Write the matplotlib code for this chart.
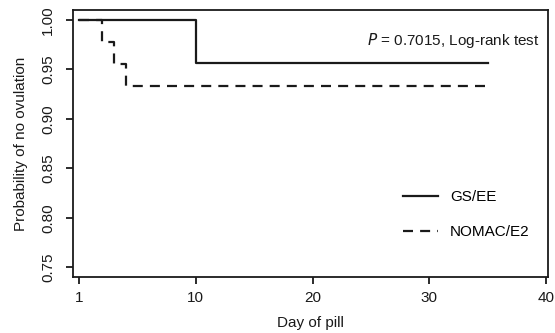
import matplotlib.pyplot as plt

plt.rcParams['font.family'] = ['Liberation Sans', 'DejaVu Sans']

# step data (day, probability of no ovulation)
GS_DAYS = [0, 10, 35]
GS_PROB = [1.0, 0.9565, 0.9565]
NOMAC_DAYS = [0, 2, 3, 4, 35]
NOMAC_PROB = [1.0, 0.9778, 0.9556, 0.9333, 0.9333]

X_TICKS = [0, 10, 20, 30, 40]
X_LABELS = ['1', '10', '20', '30', '40']
Y_TICKS = [0.75, 0.80, 0.85, 0.90, 0.95, 1.00]

INK = '#1a1a1a'
FS = 11

fig = plt.figure(figsize=(5.55, 3.33), dpi=100)
ax = fig.add_axes([0.1315, 0.168, 0.856, 0.802])

ax.step(GS_DAYS, GS_PROB, where='post', color=INK, lw=1.6, label='GS/EE')
ax.step(NOMAC_DAYS, NOMAC_PROB, where='post', color=INK, lw=1.6,
        dashes=(4.5, 3.2), label='NOMAC/E2')

ax.set_xlim(-0.5, 40.15)
ax.set_ylim(0.74, 1.01)
ax.set_xticks(X_TICKS)
ax.set_xticklabels(X_LABELS)
ax.set_yticks(Y_TICKS)
ax.set_yticklabels(['%.2f' % v for v in Y_TICKS], rotation=90, va='center')

ax.tick_params(direction='out', length=5, width=1.3, colors=INK,
               labelsize=FS)
ax.tick_params(axis='y', pad=8)
ax.tick_params(axis='x', pad=5)
for s in ax.spines.values():
    s.set_linewidth(1.3)
    s.set_color(INK)

ax.set_xlabel('Day of pill', fontsize=FS, color=INK, labelpad=8)
ax.set_ylabel('Probability of no ovulation', fontsize=FS, color=INK, labelpad=9)

ax.text(0.983, 0.885, r'$\it{P}$ = 0.7015, Log-rank test', transform=ax.transAxes,
        ha='right', va='center', fontsize=FS, color=INK)

ax.legend(loc='lower right', bbox_to_anchor=(0.99, 0.09), frameon=False,
          fontsize=FS, handlelength=2.3, labelspacing=1.4, handletextpad=0.8)

fig.savefig('out.png', dpi=100)
